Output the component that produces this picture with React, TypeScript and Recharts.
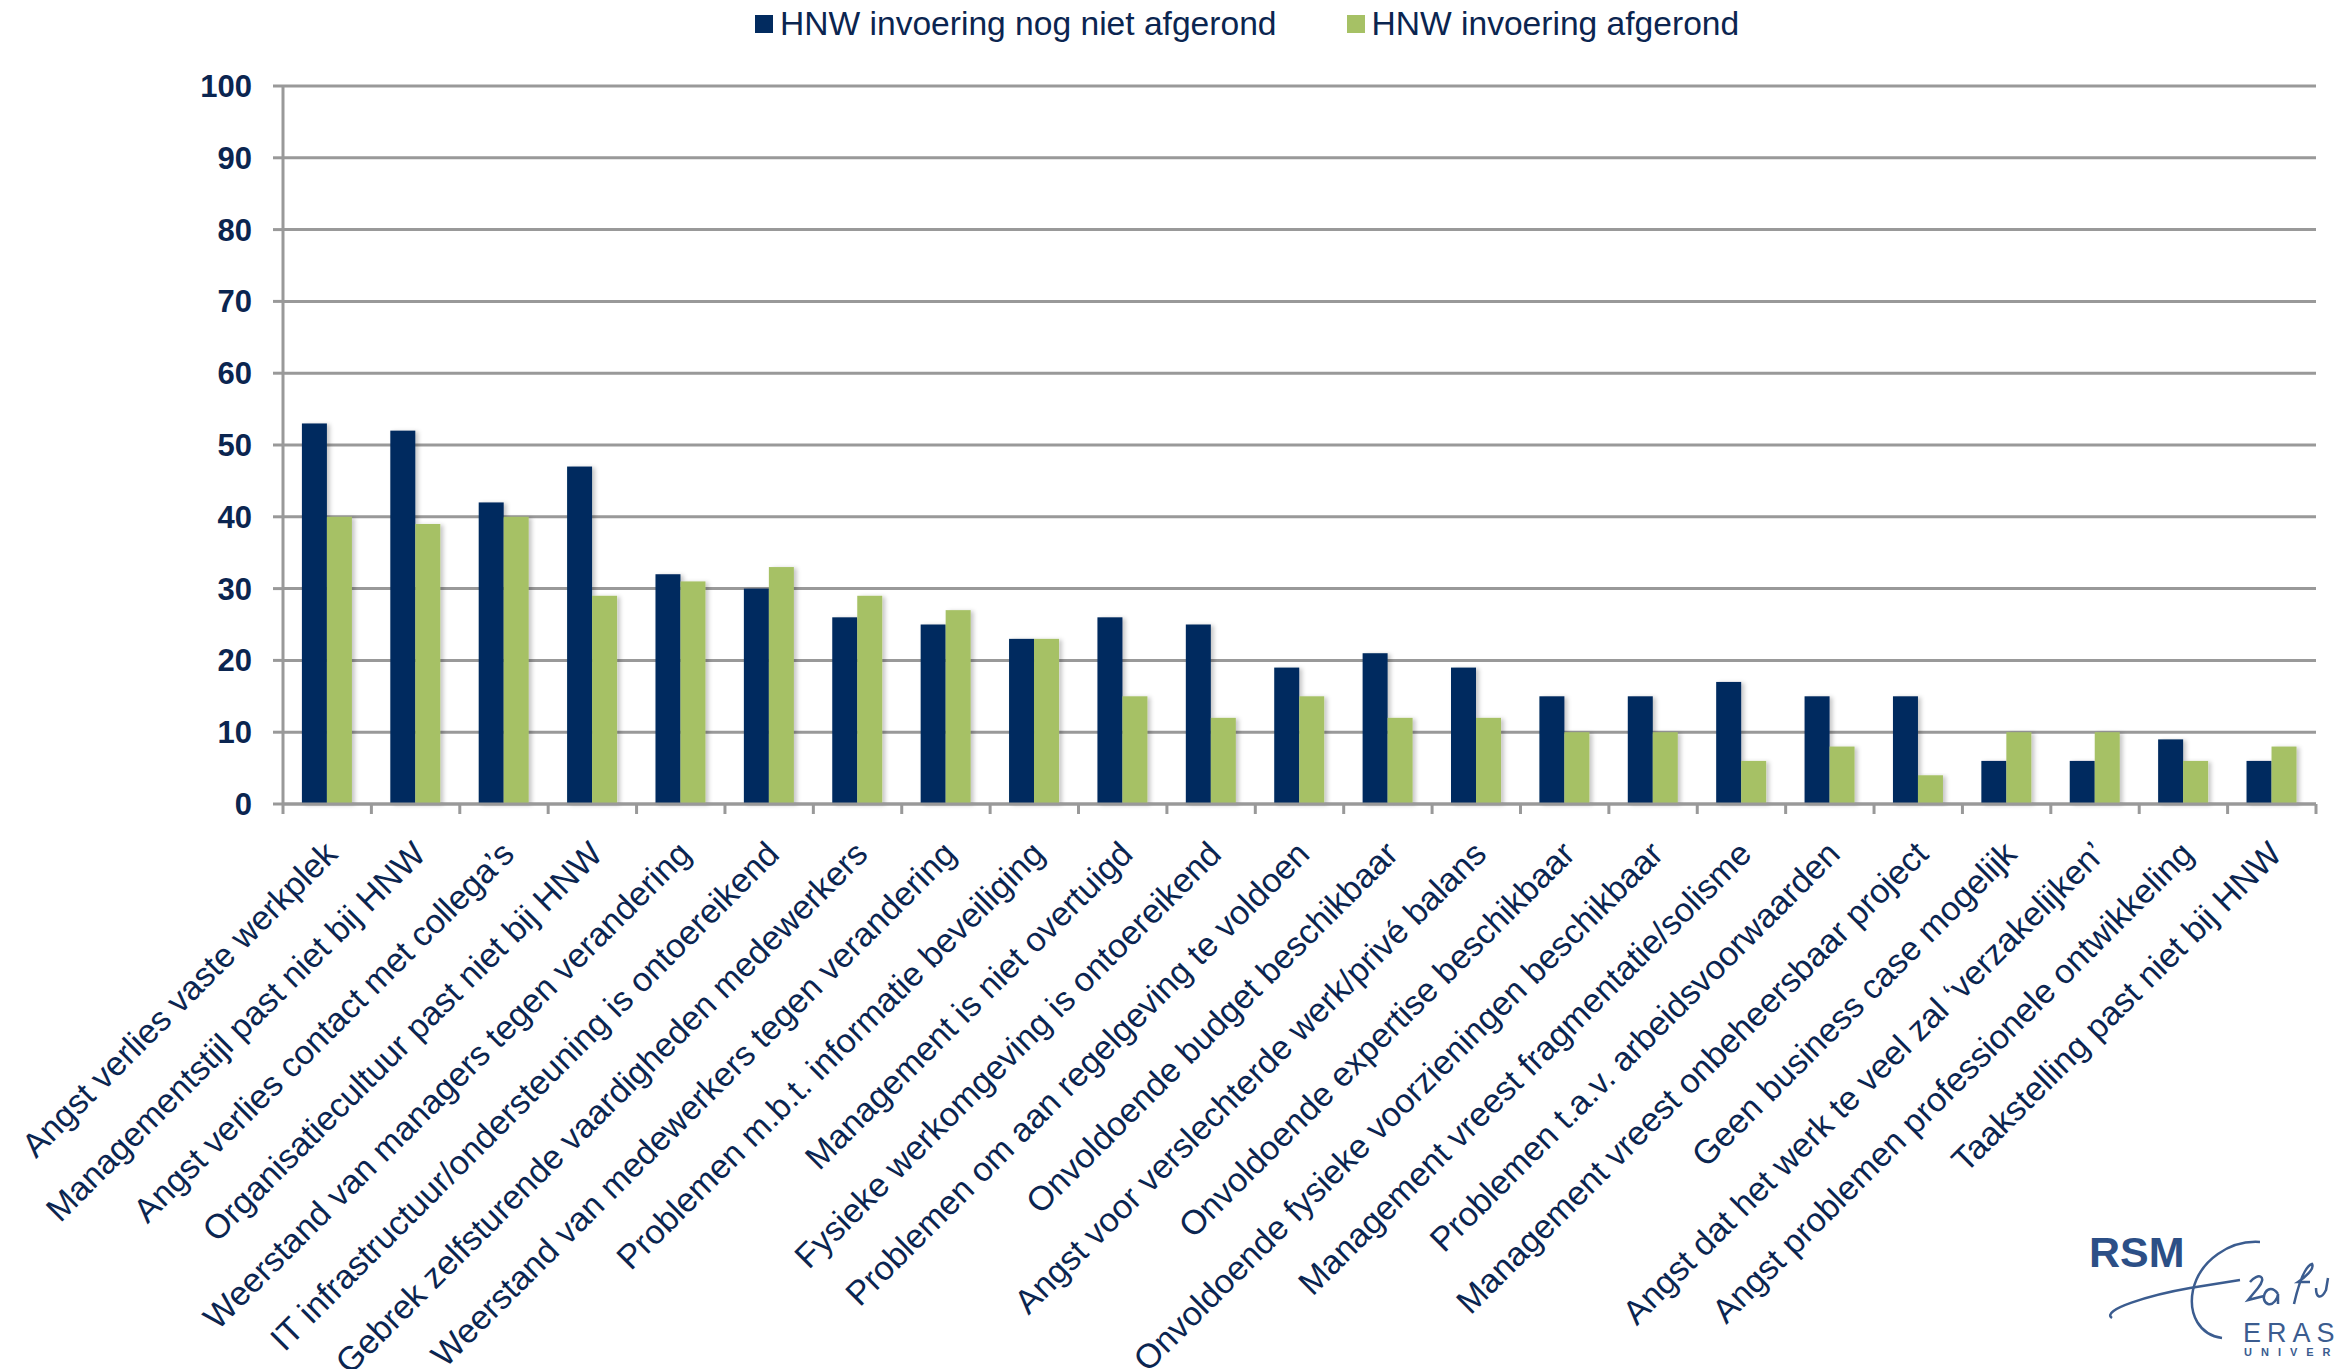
import React from 'react';
import { BarChart, Bar, XAxis, YAxis, CartesianGrid } from 'recharts';

const categories = [
  'Angst verlies vaste werkplek',
  'Managementstijl past niet bij HNW',
  'Angst verlies contact met collega\u2019s',
  'Organisatiecultuur past niet bij HNW',
  'Weerstand van managers tegen verandering',
  'IT infrastructuur/ondersteuning is ontoereikend',
  'Gebrek zelfsturende vaardigheden medewerkers',
  'Weerstand van medewerkers tegen verandering',
  'Problemen m.b.t. informatie beveiliging',
  'Management is niet overtuigd',
  'Fysieke werkomgeving is ontoereikend',
  'Problemen om aan regelgeving te voldoen',
  'Onvoldoende budget beschikbaar',
  'Angst voor verslechterde werk/privé balans',
  'Onvoldoende expertise beschikbaar',
  'Onvoldoende fysieke voorzieningen beschikbaar',
  'Management vreest fragmentatie/solisme',
  'Problemen t.a.v. arbeidsvoorwaarden',
  'Management vreest onbeheersbaar project',
  'Geen business case mogelijk',
  'Angst dat het werk te veel zal \u2018verzakelijken\u2019',
  'Angst problemen professionele ontwikkeling',
  'Taakstelling past niet bij HNW',
];

const nietAfgerond = [53, 52, 42, 47, 32, 30, 26, 25, 23, 26, 25, 19, 21, 19, 15, 15, 17, 15, 15, 6, 6, 9, 6];
const afgerond = [40, 39, 40, 29, 31, 33, 29, 27, 23, 15, 12, 15, 12, 12, 10, 10, 6, 8, 4, 10, 10, 6, 8];

const seriesNames = ['HNW invoering nog niet afgerond', 'HNW invoering afgerond'];
const yTicks = [0, 10, 20, 30, 40, 50, 60, 70, 80, 90, 100];

const NAVY = '#022b5f';
const GREEN = '#a6c165';
const TEXT = '#0b2550';
const GRID = '#999999';
const FONT = '"Liberation Sans", Arial, Helvetica, sans-serif';

const W = 2334;
const H = 1369;
const PLOT_LEFT = 283;
const PLOT_RIGHT = 2316;
const BAND = (PLOT_RIGHT - PLOT_LEFT) / categories.length;

const data = categories.map((name, i) => ({
  name,
  niet: nietAfgerond[i],
  af: afgerond[i],
}));

function CategoryTick(props: any) {
  const { x, y, payload, index } = props;
  return (
    <g>
      <line x1={x - BAND / 2} x2={x - BAND / 2} y1={y} y2={y + 10} stroke={GRID} strokeWidth={3} />
      {index === categories.length - 1 && (
        <line x1={x + BAND / 2} x2={x + BAND / 2} y1={y} y2={y + 10} stroke={GRID} strokeWidth={3} />
      )}
      <text
        transform={`translate(${x + 12},${y + 52}) rotate(-45)`}
        textAnchor="end"
        fill={TEXT}
        fontSize={34}
        fontFamily={FONT}
      >
        {payload.value}
      </text>
    </g>
  );
}

function ShadowBar(props: any) {
  const { x, y, width, height, fill } = props;
  if (!height || height <= 0) return null;
  return <rect x={x} y={y} width={width} height={height} fill={fill} filter="url(#barShadow)" />;
}

function Legend() {
  const colors = [NAVY, GREEN];
  return (
    <div
      style={{
        position: 'absolute',
        top: 5,
        left: 755,
        display: 'flex',
        alignItems: 'center',
        fontFamily: FONT,
        fontSize: 33.6,
        color: TEXT,
      }}
    >
      {seriesNames.map((n, i) => (
        <div key={n} style={{ display: 'flex', alignItems: 'center', marginRight: 70 }}>
          <span style={{ width: 18, height: 18, background: colors[i], marginRight: 7, display: 'inline-block' }} />
          <span>{n}</span>
        </div>
      ))}
    </div>
  );
}

function Logo() {
  const blue = '#3b5c8f';
  return (
    <div style={{ position: 'absolute', left: 2060, top: 1200, width: 274, height: 169, overflow: 'hidden', fontFamily: FONT }}>
      <div style={{ position: 'absolute', left: 29, top: 28, fontSize: 43, fontWeight: 700, color: '#2c4f86' }}>RSM</div>
      <svg width={274} height={169} style={{ position: 'absolute', left: 0, top: 0 }}>
        <path d="M 52 118 C 40 110, 90 95, 130 88 L 180 80" stroke={blue} strokeWidth={2.5} fill="none" />
        <path d="M 200 42 C 170 40, 140 60, 133 90 C 128 115, 140 135, 162 138" stroke={blue} strokeWidth={2.5} fill="none" />
        <path d="M 190 82 c 8 -10 18 -6 8 6 l -10 12 l 16 -4 M 218 94 c -10 -14 -20 6 -10 10 c 5 2 10 -6 10 -10 l 0 10 M 234 104 c 6 -26 12 -38 18 -40 c 3 5 -8 14 -14 18 l 12 0 M 256 88 c 0 10 5 12 10 2 l 2 -12" stroke={blue} strokeWidth={2.5} fill="none" />
      </svg>
      <div style={{ position: 'absolute', left: 183, top: 118, fontSize: 27, letterSpacing: 6, color: blue, fontWeight: 300 }}>ERASMUS</div>
      <div style={{ position: 'absolute', left: 184, top: 146, fontSize: 11, letterSpacing: 9, color: blue, fontWeight: 700 }}>UNIVERSITY</div>
    </div>
  );
}

export default function App() {
  return (
    <div style={{ position: 'absolute', left: 0, top: 0, width: W, height: H, background: '#fff' }}>
      <BarChart
        width={W}
        height={H}
        data={data}
        margin={{ top: 86, right: W - PLOT_RIGHT, left: 0, bottom: 0 }}
        barCategoryGap="21.4%"
        barGap={0}
      >
        <defs>
          <filter id="barShadow" x="-20%" y="-5%" width="150%" height="115%">
            <feDropShadow dx={3} dy={1} stdDeviation={2} floodColor="#000" floodOpacity={0.22} />
          </filter>
        </defs>
        <CartesianGrid vertical={false} stroke={GRID} strokeWidth={3} />
        <XAxis
          dataKey="name"
          height={H - 86 - 718}
          interval={0}
          tickSize={0}
          tickMargin={0}
          axisLine={{ stroke: GRID, strokeWidth: 3 }}
          tickLine={false}
          tick={<CategoryTick />}
        />
        <YAxis
          width={PLOT_LEFT}
          domain={[0, 100]}
          ticks={yTicks}
          interval={0}
          tickSize={10}
          tickMargin={21}
          axisLine={{ stroke: GRID, strokeWidth: 3 }}
          tickLine={{ stroke: GRID, strokeWidth: 3 }}
          tick={{ fill: TEXT, fontSize: 31, fontWeight: 700, fontFamily: FONT }}
        />
        <Bar dataKey="niet" name={seriesNames[0]} fill={NAVY} isAnimationActive={false} shape={<ShadowBar />} />
        <Bar dataKey="af" name={seriesNames[1]} fill={GREEN} isAnimationActive={false} shape={<ShadowBar />} />
      </BarChart>
      <Legend />
      <Logo />
    </div>
  );
}
